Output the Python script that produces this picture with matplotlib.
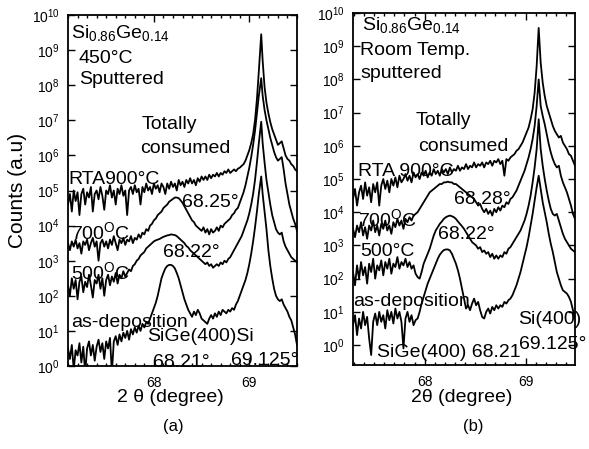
import numpy as np
import matplotlib
matplotlib.use("Agg")
import matplotlib.pyplot as plt
from matplotlib.ticker import MultipleLocator, LogLocator, NullLocator

plt.rcParams['font.family'] = ['Liberation Sans', 'DejaVu Sans']
plt.rcParams['mathtext.fontset'] = 'custom'
plt.rcParams['mathtext.rm'] = 'Liberation Sans'
plt.rcParams['mathtext.it'] = 'Liberation Sans:italic'
plt.rcParams['mathtext.bf'] = 'Liberation Sans:bold'

# scan positions (2 theta, degree): 0.02 deg step, panel (a) has one extra point on the Si peak
two_theta_a = np.concatenate([np.linspace(67.10, 69.10, 101), [69.125], np.linspace(69.14, 69.50, 19)])
two_theta_b = np.linspace(67.29, 69.49, 111)

# ---- (a) 450C sputtered, log10(counts) ----
a_rta900 = [4.6, 4.9, 4.4, 5.0, 4.7, 4.95, 4.3, 4.9, 5.05, 4.6,
            4.95, 4.8, 5.1, 4.4, 4.9, 5.0, 4.75, 5.1, 4.85, 4.45,
            5.0, 4.9, 5.15, 4.8, 5.0, 4.6, 5.05, 4.9, 5.15, 4.85,
            5.0, 4.3, 5.0, 5.1, 4.9, 5.15, 4.95, 5.05, 4.6, 5.1,
            4.95, 5.2, 5.0, 5.1, 4.9, 5.2, 5.05, 5.15, 4.95, 5.2,
            5.1, 4.9, 5.2, 5.05, 5.25, 5.1, 5.2, 5.0, 5.3, 5.15,
            5.25, 5.1, 5.3, 5.2, 5.35, 5.2, 5.3, 5.15, 5.35, 5.25,
            5.4, 5.3, 5.4, 5.3, 5.45, 5.35, 5.45, 5.4, 5.5, 5.4,
            5.5, 5.45, 5.55, 5.5, 5.6, 5.5, 5.55, 5.6, 5.55, 5.62,
            5.65, 5.7, 5.75, 5.85, 6.0, 6.15, 6.35, 6.6, 7.0, 7.6,
            8.4,
            9.45,
            8.7, 7.95, 7.5, 7.2, 6.95, 6.75, 6.6, 6.45, 6.3, 6.35,
            6.4, 6.2, 6.0, 5.9, 5.85, 5.75, 5.7, 5.6, 5.55]
a_700 = [3.5, 3.3, 3.55, 3.4, 3.6, 3.35, 3.5, 3.2, 3.55, 3.45,
         3.6, 3.3, 3.5, 3.65, 3.4, 3.55, 3.0, 3.5, 3.6, 3.4,
         3.55, 3.35, 3.6, 3.45, 3.7, 3.5, 3.3, 3.6, 3.5, 3.65,
         3.45, 3.6, 3.55, 3.7, 3.5, 3.65, 3.6, 3.75, 3.65, 3.8,
         3.75, 3.9, 3.85, 4.0, 4.05, 4.15, 4.2, 4.3, 4.35, 4.4,
         4.5, 4.55, 4.6, 4.68, 4.72, 4.76, 4.8, 4.8, 4.78, 4.72,
         4.65, 4.55, 4.45, 4.35, 4.25, 4.15, 4.1, 4.0, 3.95, 3.9,
         3.85, 3.95, 3.8, 3.9, 3.75, 3.9, 3.8, 3.85, 3.95, 3.85,
         4.0, 3.95, 4.05, 4.1, 4.15, 4.2, 4.3, 4.35, 4.45, 4.5,
         4.65, 4.8, 4.95, 5.15, 5.4, 5.65, 5.95, 6.3, 6.7, 7.2,
         7.7,
         8.2,
         7.7, 7.3, 7.0, 6.75, 6.5, 6.3, 6.1, 5.95, 5.85, 5.9,
         5.95, 5.6, 5.2, 4.9, 4.6, 4.4, 4.2, 4.05, 3.85]
a_500 = [2.3, 2.0, 2.5, 2.2, 2.45, 1.9, 2.4, 2.55, 2.1, 2.4,
         2.25, 2.6, 2.3, 1.95, 2.45, 2.35, 2.6, 2.2, 2.5, 2.0,
         2.45, 2.6, 2.3, 2.55, 2.4, 2.65, 2.35, 2.6, 2.5, 2.7,
         2.55, 2.65, 2.75, 2.7, 2.85, 2.9, 3.0, 3.05, 3.15, 3.2,
         3.25, 3.35, 3.4, 3.45, 3.5, 3.55, 3.58, 3.6, 3.62, 3.65,
         3.68, 3.7, 3.72, 3.73, 3.75, 3.74, 3.73, 3.7, 3.65, 3.6,
         3.55, 3.5, 3.42, 3.38, 3.3, 3.25, 3.2, 3.15, 3.1, 3.05,
         3.0, 2.95, 2.9, 2.95, 2.85, 2.9, 2.8, 2.85, 2.9, 2.85,
         2.95, 2.9, 3.0, 2.95, 3.05, 3.1, 3.2, 3.3, 3.4, 3.5,
         3.6, 3.7, 3.85, 4.0, 4.15, 4.35, 4.6, 4.9, 5.3, 5.8,
         6.35,
         6.96,
         6.35, 5.8, 5.3, 4.95, 4.6, 4.3, 4.1, 3.9, 3.8, 3.75,
         3.8, 3.55, 3.4, 3.3, 3.2, 3.1, 3.05, 3.0, 2.95]
a_asdep = [0.5, 0.2, 0.6, -0.1, 0.45, 0.3, 0.65, 0.1, 0.55, -0.2,
           0.5, 0.7, 0.3, 0.6, 0.15, 0.55, 0.75, 0.4, 0.65, 0.2,
           0.7, 0.5, 0.8, -0.2, 0.7, 0.85, 0.6, 0.9, 0.7, 0.95,
           0.8, 1.0, 0.75, 1.05, 0.9, 1.1, 0.95, 1.15, 1.0, 1.2,
           1.1, 1.25, 1.2, 1.35, 1.5, 1.65, 1.8, 2.0, 2.25, 2.5,
           2.65, 2.78, 2.85, 2.88, 2.88, 2.85, 2.78, 2.65, 2.5, 2.3,
           2.1, 1.9, 1.75, 1.6, 1.5, 1.4, 1.55, 1.45, 1.6, 1.5,
           1.35, 1.3, 1.25, 1.2, 1.35, 1.45, 1.35, 1.5, 1.4, 1.55,
           1.45, 1.6, 1.55, 1.5, 1.6, 1.55, 1.65, 1.6, 1.75, 1.85,
           2.0, 2.15, 2.3, 2.45, 2.65, 2.9, 3.2, 3.55, 3.95, 4.4,
           4.9,
           5.4,
           4.9, 4.4, 3.9, 3.3, 2.85, 2.5, 2.2, 2.0, 1.9, 1.85,
           1.9, 1.75, 1.65, 1.55, 1.4, 1.3, 1.1, 0.9, 0.6]

# ---- (b) room temperature sputtered ----
b_rta900 = [4.4, 4.7, 4.2, 4.6, 4.8, 4.4, 4.9, 4.5, 4.75, 4.3,
            4.85, 4.6, 4.9, 4.2, 4.8, 5.0, 4.7, 4.95, 4.6, 5.0,
            4.8, 5.05, 4.75, 5.1, 4.9, 5.0, 5.15, 4.95, 5.1, 4.9,
            5.2, 5.05, 5.15, 5.0, 5.2, 5.1, 5.25, 5.05, 5.2, 5.1,
            5.3, 5.15, 5.25, 5.1, 5.3, 5.2, 5.3, 5.15, 5.35, 5.2,
            5.3, 5.25, 5.4, 5.25, 5.35, 5.3, 5.45, 5.3, 5.4, 5.35,
            5.5, 5.35, 5.45, 5.4, 5.5, 5.35, 5.5, 5.45, 5.55, 5.4,
            5.55, 5.5, 5.6, 5.45, 5.55, 5.1, 5.6, 5.55, 5.65, 5.7,
            5.75, 5.85, 5.9, 6.0, 6.1, 6.25, 6.4, 6.55, 6.8, 7.1,
            7.6, 8.4, 9.55, 8.5, 7.9, 7.5, 7.2, 7.0, 6.8, 6.6,
            6.45, 6.35, 6.25, 6.3, 6.1, 6.0, 5.9, 5.75, 5.7, 5.55,
            5.4]
b_700 = [3.5, 3.25, 3.6, 3.4, 3.7, 3.3, 3.55, 3.2, 3.6, 3.45,
         3.75, 3.4, 3.6, 3.3, 3.65, 3.5, 3.75, 3.45, 3.6, 3.35,
         3.7, 3.55, 3.8, 3.6, 3.75, 3.5, 3.8, 3.7, 3.85, 3.75,
         3.9, 3.95, 4.0, 4.1, 4.2, 4.3, 4.4, 4.5, 4.6, 4.65,
         4.7, 4.75, 4.8, 4.85, 4.85, 4.9, 4.9, 4.92, 4.9, 4.9,
         4.85, 4.85, 4.8, 4.75, 4.7, 4.65, 4.6, 4.55, 4.5, 4.45,
         4.4, 4.3, 4.2, 4.25, 4.1, 4.0, 4.1, 3.95, 4.05, 3.9,
         4.1, 4.0, 4.15, 4.05, 4.2, 4.15, 4.3, 4.25, 4.4, 4.45,
         4.55, 4.65, 4.8, 4.95, 5.1, 5.25, 5.45, 5.65, 5.9, 6.2,
         6.6, 7.2, 8.0, 7.2, 6.9, 6.65, 6.35, 6.05, 5.8, 5.6,
         5.45, 5.35, 5.4, 5.1, 4.9, 4.75, 4.6, 4.4, 4.2, 3.95,
         3.8]
b_500 = [2.2, 1.8, 2.4, 2.0, 2.5, 2.1, 2.35, 1.85, 2.45, 2.2,
         2.6, 2.0, 2.4, 2.25, 2.55, 2.1, 2.5, 2.3, 2.6, 2.15,
         2.45, 2.35, 2.65, 2.3, 2.5, 2.4, 2.6, 2.35, 2.5, 2.3,
         2.4, 2.15, 2.05, 2.0, 2.2, 2.45, 2.6, 2.75, 2.9, 3.1,
         3.3, 3.45, 3.55, 3.65, 3.72, 3.8, 3.85, 3.88, 3.9, 3.88,
         3.85, 3.8, 3.72, 3.65, 3.58, 3.5, 3.4, 3.3, 3.2, 3.1,
         3.05, 3.0, 2.9, 2.95, 2.8, 2.85, 2.75, 2.8, 2.65, 2.75,
         2.6, 2.7, 2.6, 2.7, 2.65, 2.8, 2.75, 2.9, 2.95, 3.05,
         3.15, 3.25, 3.35, 3.45, 3.6, 3.75, 3.95, 4.2, 4.5, 4.9,
         5.35, 5.9, 6.8, 5.9, 5.4, 5.0, 4.65, 4.35, 4.1, 3.95,
         3.9, 3.95, 3.75, 3.55, 3.35, 3.2, 3.1, 3.0, 2.9, 2.85,
         2.8]
b_asdep = [0.6, 0.9, 0.3, 0.8, 0.5, 1.0, 0.6, 0.85, 0.2, -0.3,
           0.7, 0.95, 0.6, 1.0, 0.7, 0.9, 0.5, 1.05, 0.75, 1.0,
           0.65, 1.1, 0.8, 1.0, 0.7, -0.1, 0.8, 1.0, 0.7, 0.9,
           0.6, 0.75, 0.8, 1.0, 1.25, 1.45, 1.65, 1.85, 2.0, 2.15,
           2.3, 2.45, 2.6, 2.72, 2.8, 2.86, 2.88, 2.88, 2.85, 2.75,
           2.6, 2.45, 2.25, 2.0, 1.7, 1.4, 1.1, 1.2, 1.05, 1.25,
           1.4, 1.2, 1.3, 1.05, 0.85, 0.8, 1.0, 1.1, 0.95, 1.15,
           1.05, 1.2, 1.1, 1.2, 1.15, 1.3, 1.25, 1.35, 1.4, 1.5,
           1.65, 1.8, 2.0, 2.2, 2.45, 2.7, 2.95, 3.25, 3.6, 3.95,
           4.35, 4.75, 5.1, 4.7, 4.3, 4.0, 3.7, 3.35, 3.05, 2.8,
           2.5, 2.2, 2.0, 1.8, 1.65, 1.6, 1.55, 1.45, 1.3, 1.05,
           0.8]

W, H = 589, 449
fig = plt.figure(figsize=(W / 100, H / 100), dpi=100)


def px_axes(left, top, right, bottom):
    return fig.add_axes([left / W, 1 - bottom / H, (right - left) / W, (bottom - top) / H])


def setup(ax, xlim, ylim):
    ax.set_yscale('log')
    ax.set_xlim(*xlim)
    ax.set_ylim(*ylim)
    ax.set_xticks([68, 69])
    ax.xaxis.set_minor_locator(MultipleLocator(0.1))
    ax.yaxis.set_major_locator(LogLocator(base=10, numticks=20))
    ax.yaxis.set_minor_locator(NullLocator())
    ax.tick_params(which='both', direction='in', top=True, right=True, width=1.0)
    ax.tick_params(which='major', length=5, labelsize=10)
    ax.tick_params(which='minor', length=2.5)
    ax.tick_params(axis='x', pad=7)
    ax.tick_params(axis='y', pad=6)
    for s in ax.spines.values():
        s.set_linewidth(1.3)


def t(ax, x, logy, s, **kw):
    ax.text(x, 10 ** logy, s, fontsize=14, va='center', ha='left', clip_on=False, **kw)


# panel (a)
ax1 = px_axes(68, 15, 297, 366)
setup(ax1, (67.10, 69.50), (1, 1e10))
for curve in (a_rta900, a_700, a_500, a_asdep):
    ax1.plot(two_theta_a, 10 ** np.array(curve), color='black', lw=1.3)

t(ax1, 67.128, 9.49, r'Si$_{0.86}$Ge$_{0.14}$')
t(ax1, 67.213, 8.77, '450°C')
t(ax1, 67.213, 8.15, 'Sputtered')
t(ax1, 67.872, 6.87, 'Totally')
t(ax1, 67.851, 6.21, 'consumed')
t(ax1, 67.106, 5.30, 'RTA900°C')
t(ax1, 68.298, 4.67, '68.25°')
t(ax1, 67.128, 3.82, r'700$^{\rm O}$C')
t(ax1, 68.096, 3.22, '68.22°')
t(ax1, 67.128, 2.68, r'500$^{\rm O}$C')
t(ax1, 67.128, 1.23, 'as-deposition')
t(ax1, 67.926, 0.83, 'SiGe(400)Si')
t(ax1, 67.989, 0.11, '68.21°')
t(ax1, 68.809, 0.17, '69.125°')

# panel (b)
ax2 = px_axes(353, 13, 575, 365)
setup(ax2, (67.29, 69.49), (10 ** -0.6, 1e10))
for curve in (b_rta900, b_700, b_500, b_asdep):
    ax2.plot(two_theta_b, 10 ** np.array(curve), color='black', lw=1.3)

t(ax2, 67.38, 9.64, r'Si$_{0.86}$Ge$_{0.14}$')
t(ax2, 67.36, 8.88, 'Room Temp.')
t(ax2, 67.36, 8.18, 'sputtered')
t(ax2, 67.91, 6.76, 'Totally')
t(ax2, 67.94, 5.97, 'consumed')
t(ax2, 67.34, 5.24, 'RTA 900°C')
t(ax2, 68.29, 4.39, '68.28°')
t(ax2, 67.34, 3.79, r'700$^{\rm O}$C')
t(ax2, 68.13, 3.33, '68.22°')
t(ax2, 67.36, 2.82, '500°C')
t(ax2, 67.29, 1.30, 'as-deposition')
t(ax2, 67.53, -0.21, 'SiGe(400) 68.21')
t(ax2, 68.94, 0.02, '69.125°')
t(ax2, 68.93, 0.76, 'Si(400)')

fig.text(18 / W, 1 - 190 / H, 'Counts (a.u)', rotation=90, fontsize=15, ha='center', va='center')
fig.text(170 / W, 1 - 398 / H, '2 θ (degree)', fontsize=14, ha='center', va='center')
fig.text(173 / W, 1 - 427 / H, '(a)', fontsize=12, ha='center', va='center')
fig.text(462 / W, 1 - 398 / H, '2θ (degree)', fontsize=14, ha='center', va='center')
fig.text(473 / W, 1 - 427 / H, '(b)', fontsize=12, ha='center', va='center')

fig.savefig('out.png', dpi=100)
